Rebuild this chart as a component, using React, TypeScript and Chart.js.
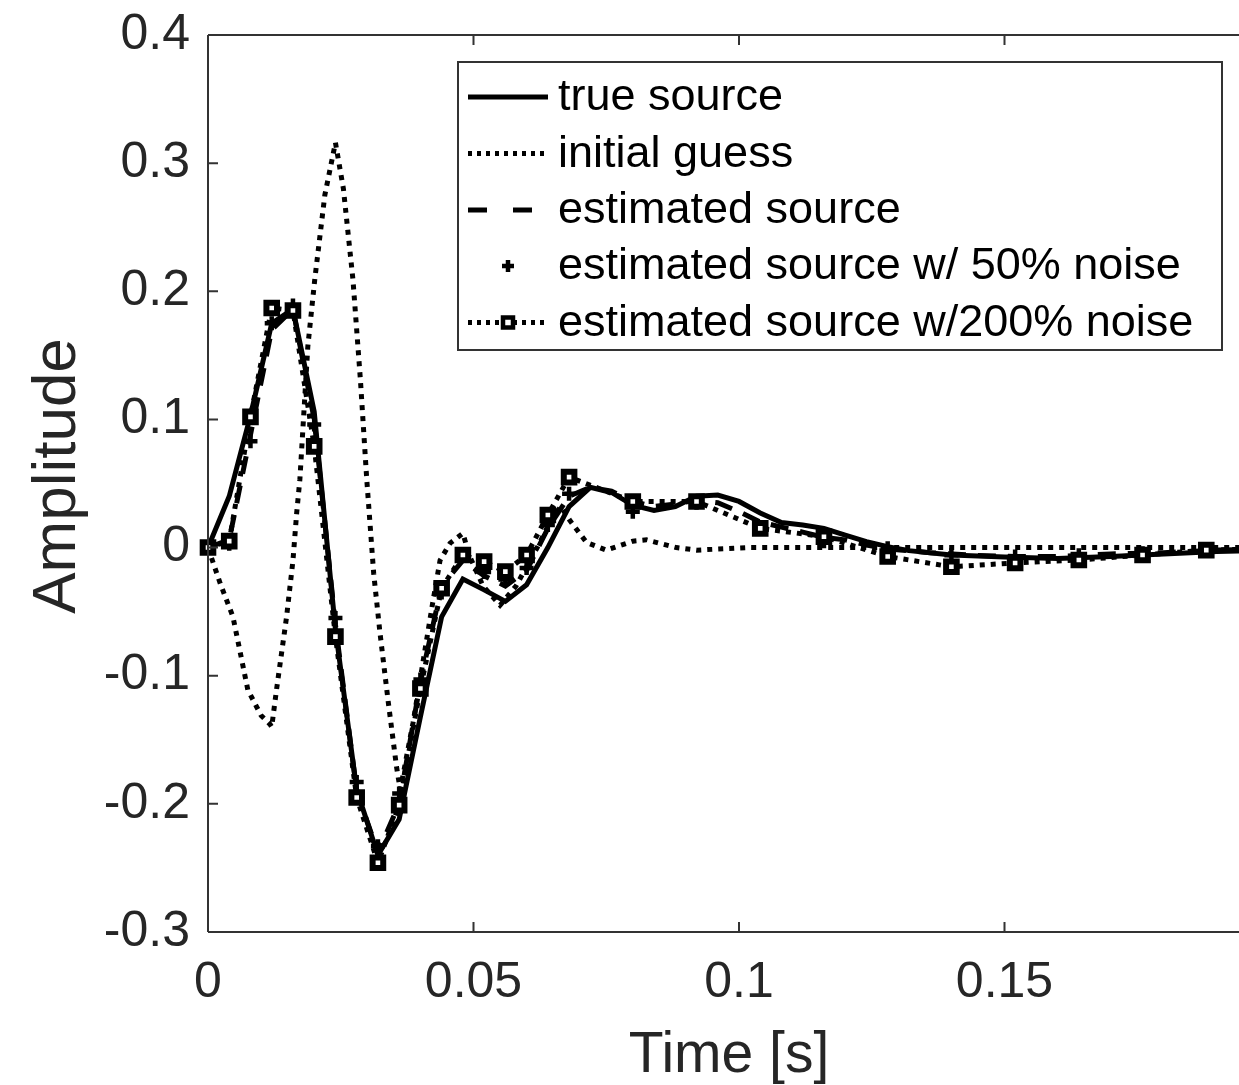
import React, { useEffect, useRef } from "react";
import { Chart, registerables } from "chart.js";

Chart.register(...registerables);

// ---------- data ----------
const TRUE_T = [0, 0.004, 0.008, 0.012, 0.016, 0.02, 0.024, 0.028, 0.032, 0.036, 0.04, 0.044, 0.048, 0.052, 0.056, 0.06, 0.064, 0.068, 0.072, 0.076, 0.08, 0.084, 0.088, 0.092, 0.096, 0.1, 0.104, 0.108, 0.112, 0.116, 0.12, 0.124, 0.128, 0.132, 0.14, 0.15, 0.16, 0.17, 0.18, 0.19, 0.2];
const TRUE_V = [0, 0.04, 0.103, 0.175, 0.186, 0.106, -0.064, -0.189, -0.24, -0.212, -0.132, -0.054, -0.0245, -0.033, -0.042, -0.029, 0.0, 0.032, 0.047, 0.043, 0.033, 0.029, 0.032, 0.04, 0.041, 0.036, 0.027, 0.0195, 0.0176, 0.015, 0.0098, 0.0046, 0.0007, -0.0024, -0.0058, -0.0073, -0.0085, -0.007, -0.005, -0.003, -0.002];

const GUESS_T = [0, 0.0023, 0.0047, 0.0075, 0.01, 0.0117, 0.012, 0.0129, 0.0148, 0.016, 0.0167, 0.0173, 0.0188, 0.0201, 0.022, 0.024, 0.0255, 0.0273, 0.0287, 0.0299, 0.0312, 0.0324, 0.0339, 0.0355, 0.0362, 0.0386, 0.0424, 0.0437, 0.0456, 0.048, 0.0493, 0.0518, 0.055, 0.058, 0.062, 0.065, 0.0665, 0.068, 0.0713, 0.075, 0.08, 0.0826, 0.0882, 0.092, 0.102, 0.12, 0.2];
const GUESS_V = [0, -0.028, -0.054, -0.111, -0.131, -0.138, -0.14, -0.111, -0.054, -0.01, 0.027, 0.053, 0.157, 0.209, 0.275, 0.316, 0.28, 0.209, 0.131, 0.053, -0.02, -0.067, -0.119, -0.171, -0.189, -0.137, -0.041, -0.01, 0.0035, 0.011, -0.007, -0.03, -0.045, -0.03, 0.0, 0.025, 0.032, 0.022, 0.004, -0.002, 0.005, 0.006, 0.0, -0.002, 0.0, 0.0, 0.0];

const EST_T = [0, 0.004, 0.008, 0.012, 0.016, 0.02, 0.024, 0.028, 0.032, 0.036, 0.04, 0.044, 0.048, 0.052, 0.056, 0.06, 0.064, 0.068, 0.072, 0.076, 0.08, 0.084, 0.088, 0.092, 0.096, 0.1, 0.104, 0.108, 0.112, 0.116, 0.12, 0.124, 0.128, 0.136, 0.144, 0.152, 0.16, 0.17, 0.18, 0.19, 0.2];
const EST_V = [0, 0.006, 0.088, 0.17, 0.186, 0.1, -0.06, -0.19, -0.238, -0.2, -0.105, -0.03, -0.01, -0.022, -0.03, -0.018, 0.015, 0.04, 0.047, 0.044, 0.036, 0.032, 0.034, 0.037, 0.035, 0.028, 0.02, 0.016, 0.012, 0.008, 0.006, 0.002, -0.001, -0.004, -0.006, -0.007, -0.007, -0.005, -0.004, -0.002, -0.001];

const N50_T = [0, 0.004, 0.008, 0.012, 0.016, 0.02, 0.024, 0.028, 0.032, 0.036, 0.04, 0.044, 0.048, 0.052, 0.056, 0.06, 0.064, 0.068, 0.08, 0.092, 0.104, 0.116, 0.128, 0.14, 0.152, 0.164, 0.176, 0.188];
const N50_V = [0, 0.003, 0.083, 0.175, 0.189, 0.096, -0.055, -0.183, -0.233, -0.192, -0.103, -0.035, -0.005, -0.019, -0.025, -0.016, 0.0176, 0.042, 0.028, 0.035, 0.016, 0.005, -0.0005, -0.006, -0.007, -0.006, -0.0045, -0.002];

const N200_T = [0, 0.004, 0.008, 0.012, 0.016, 0.02, 0.024, 0.028, 0.032, 0.036, 0.04, 0.044, 0.048, 0.052, 0.056, 0.06, 0.064, 0.068, 0.08, 0.092, 0.104, 0.116, 0.128, 0.14, 0.152, 0.164, 0.176, 0.188, 0.2];
const N200_V = [0, 0.005, 0.102, 0.187, 0.185, 0.079, -0.0695, -0.195, -0.246, -0.201, -0.11, -0.0317, -0.0058, -0.011, -0.0188, -0.0058, 0.0254, 0.055, 0.036, 0.036, 0.015, 0.0085, -0.007, -0.015, -0.012, -0.0097, -0.0058, -0.002, -0.001];

const X_TICKS = [0, 0.05, 0.1, 0.15, 0.2];
const X_TICK_LABELS = ["0", "0.05", "0.1", "0.15", ""];
const Y_TICKS = [-0.3, -0.2, -0.1, 0, 0.1, 0.2, 0.3, 0.4];
const Y_TICK_LABELS = ["-0.3", "-0.2", "-0.1", "0", "0.1", "0.2", "0.3", "0.4"];

const SERIES_NAMES = [
  "true source",
  "initial guess",
  "estimated source",
  "estimated source w/ 50% noise",
  "estimated source w/200% noise",
];
const X_TITLE = "Time [s]";
const Y_TITLE = "Amplitude";

// ---------- styles ----------
const FONT = "'Liberation Sans', Arial, Helvetica, sans-serif";
const AX = "#262626";
const FRAME = "#333333";
const LW = 5;
const DOT_DASH = [5, 6];
const EST_DASH = [18, 12];

const pts = (t: number[], v: number[]) => t.map((x, i) => ({ x, y: v[i] }));

const framePlugin = {
  id: "matlabFrame",
  afterDraw(chart: any) {
    const { ctx, chartArea } = chart;
    const xs = chart.scales.x;
    const ys = chart.scales.y;
    const { left, right, top, bottom } = chartArea;
    ctx.save();
    // frame
    ctx.strokeStyle = FRAME;
    ctx.lineWidth = 2;
    ctx.setLineDash([]);
    ctx.beginPath();
    ctx.moveTo(left, top);
    ctx.lineTo(right, top);
    ctx.moveTo(left, bottom);
    ctx.lineTo(right, bottom);
    ctx.moveTo(left, top);
    ctx.lineTo(left, bottom);
    ctx.moveTo(right, top);
    ctx.lineTo(right, bottom);
    ctx.stroke();
    // inward ticks
    const tl = 10;
    ctx.beginPath();
    X_TICKS.forEach((v) => {
      const px = xs.getPixelForValue(v);
      ctx.moveTo(px, bottom);
      ctx.lineTo(px, bottom - tl);
      ctx.moveTo(px, top);
      ctx.lineTo(px, top + tl);
    });
    Y_TICKS.forEach((v) => {
      const py = ys.getPixelForValue(v);
      ctx.moveTo(left, py);
      ctx.lineTo(left + tl, py);
      ctx.moveTo(right, py);
      ctx.lineTo(right - tl, py);
    });
    ctx.stroke();

    // axis titles
    ctx.fillStyle = AX;
    ctx.textAlign = "center";
    ctx.textBaseline = "alphabetic";
    ctx.font = `57px ${FONT}`;
    ctx.fillText(X_TITLE, 729, 1072);
    ctx.save();
    ctx.translate(75, 476);
    ctx.rotate(-Math.PI / 2);
    ctx.font = `62px ${FONT}`;
    ctx.fillText(Y_TITLE, 0, 0);
    ctx.restore();

    // legend
    const bx = 458, by = 62, bw = 764, bh = 288;
    ctx.fillStyle = "#ffffff";
    ctx.fillRect(bx, by, bw, bh);
    ctx.strokeStyle = FRAME;
    ctx.lineWidth = 2;
    ctx.strokeRect(bx, by, bw, bh);
    const rows = [97, 153.5, 210, 266, 322.5];
    const x0 = 468, x1 = 548, xm = 508;
    ctx.strokeStyle = "#000";
    ctx.fillStyle = "#000";
    ctx.lineWidth = LW;
    ctx.lineCap = "butt";
    // row 0 solid
    ctx.setLineDash([]);
    ctx.beginPath();
    ctx.moveTo(x0, rows[0]);
    ctx.lineTo(x1, rows[0]);
    ctx.stroke();
    // row 1 dotted
    ctx.setLineDash([4, 5]);
    ctx.beginPath();
    ctx.moveTo(x0, rows[1]);
    ctx.lineTo(x1, rows[1]);
    ctx.stroke();
    // row 2 dashed
    ctx.setLineDash([19, 26]);
    ctx.beginPath();
    ctx.moveTo(x0, rows[2]);
    ctx.lineTo(534, rows[2]);
    ctx.stroke();
    // row 3 plus
    ctx.setLineDash([]);
    ctx.lineWidth = 4.5;
    ctx.beginPath();
    ctx.moveTo(xm - 6, rows[3]);
    ctx.lineTo(xm + 6, rows[3]);
    ctx.moveTo(xm, rows[3] - 6);
    ctx.lineTo(xm, rows[3] + 6);
    ctx.stroke();
    // row 4 dotted + square
    ctx.lineWidth = LW;
    ctx.setLineDash([4, 5]);
    ctx.beginPath();
    ctx.moveTo(x0, rows[4]);
    ctx.lineTo(x1, rows[4]);
    ctx.stroke();
    ctx.setLineDash([]);
    ctx.fillStyle = "#fff";
    ctx.fillRect(xm - 7, rows[4] - 7, 14, 14);
    ctx.lineWidth = 4.5;
    ctx.strokeRect(xm - 5, rows[4] - 5, 10, 10);
    // texts
    ctx.fillStyle = "#000";
    ctx.textAlign = "left";
    ctx.textBaseline = "middle";
    ctx.font = `45px ${FONT}`;
    SERIES_NAMES.forEach((name, i) => ctx.fillText(name, 558, rows[i] + 1));
    ctx.restore();
  },
};

export default function App() {
  const ref = useRef<HTMLCanvasElement | null>(null);
  useEffect(() => {
    if (!ref.current) return;
    const chart = new Chart(ref.current, {
      type: "line",
      data: {
        datasets: [
          {
            label: SERIES_NAMES[0],
            data: pts(TRUE_T, TRUE_V),
            borderColor: "#000",
            borderWidth: LW,
            pointRadius: 0,
            tension: 0,
            order: 5,
          },
          {
            label: SERIES_NAMES[1],
            data: pts(GUESS_T, GUESS_V),
            borderColor: "#000",
            borderWidth: LW,
            borderDash: DOT_DASH,
            pointRadius: 0,
            tension: 0,
            order: 4,
          },
          {
            label: SERIES_NAMES[2],
            data: pts(EST_T, EST_V),
            borderColor: "#000",
            borderWidth: LW,
            borderDash: EST_DASH,
            pointRadius: 0,
            tension: 0,
            order: 3,
          },
          {
            label: SERIES_NAMES[3],
            data: pts(N50_T, N50_V),
            showLine: false,
            pointStyle: "cross",
            pointRadius: 7,
            pointBorderWidth: 4.5,
            pointBorderColor: "#000",
            pointBackgroundColor: "#000",
            borderColor: "#000",
            order: 2,
            clip: false as any,
          },
          {
            label: SERIES_NAMES[4],
            data: pts(N200_T, N200_V),
            borderColor: "#000",
            borderWidth: LW,
            borderDash: DOT_DASH,
            pointStyle: "rect",
            pointRadius: 7.5,
            pointBorderWidth: 6,
            pointBorderColor: "#000",
            pointBackgroundColor: "#fff",
            tension: 0,
            order: 1,
            clip: false as any,
          },
        ],
      },
      options: {
        animation: false,
        responsive: false,
        devicePixelRatio: 1,
        events: [],
        layout: { padding: { top: 35, right: 0, left: 0, bottom: 0 } },
        plugins: {
          legend: { display: false },
          tooltip: { enabled: false },
          title: { display: false },
        },
        scales: {
          x: {
            type: "linear",
            min: 0,
            max: 0.2,
            afterFit: (s: any) => {
              s.height = 153;
            },
            afterBuildTicks: (s: any) => {
              s.ticks = X_TICKS.map((v) => ({ value: v }));
            },
            grid: { display: false, drawTicks: false },
            border: { display: false },
            ticks: {
              autoSkip: false,
              maxRotation: 0,
              padding: 21,
              color: AX,
              font: { family: FONT, size: 50 },
              callback: (v: any) => {
                const i = X_TICKS.findIndex((t) => Math.abs(t - Number(v)) < 1e-9);
                return i >= 0 ? X_TICK_LABELS[i] : "";
              },
            },
          },
          y: {
            type: "linear",
            min: -0.3,
            max: 0.4,
            afterFit: (s: any) => {
              s.width = 208;
            },
            afterBuildTicks: (s: any) => {
              s.ticks = Y_TICKS.map((v) => ({ value: v }));
            },
            grid: { display: false, drawTicks: false },
            border: { display: false },
            ticks: {
              autoSkip: false,
              padding: 18,
              color: AX,
              font: { family: FONT, size: 50, lineHeight: 0.6 },
              callback: (v: any) => {
                const i = Y_TICKS.findIndex((t) => Math.abs(t - Number(v)) < 1e-9);
                return i >= 0 ? Y_TICK_LABELS[i] : "";
              },
            },
          },
        },
      },
      plugins: [framePlugin],
    } as any);
    return () => chart.destroy();
  }, []);

  return (
    <div
      style={{
        position: "absolute",
        left: 0,
        top: 0,
        width: 1239,
        height: 1085,
        overflow: "hidden",
        background: "#fff",
      }}
    >
      <canvas ref={ref} width={1291} height={1085} style={{ display: "block", width: 1291, height: 1085 }} />
    </div>
  );
}
